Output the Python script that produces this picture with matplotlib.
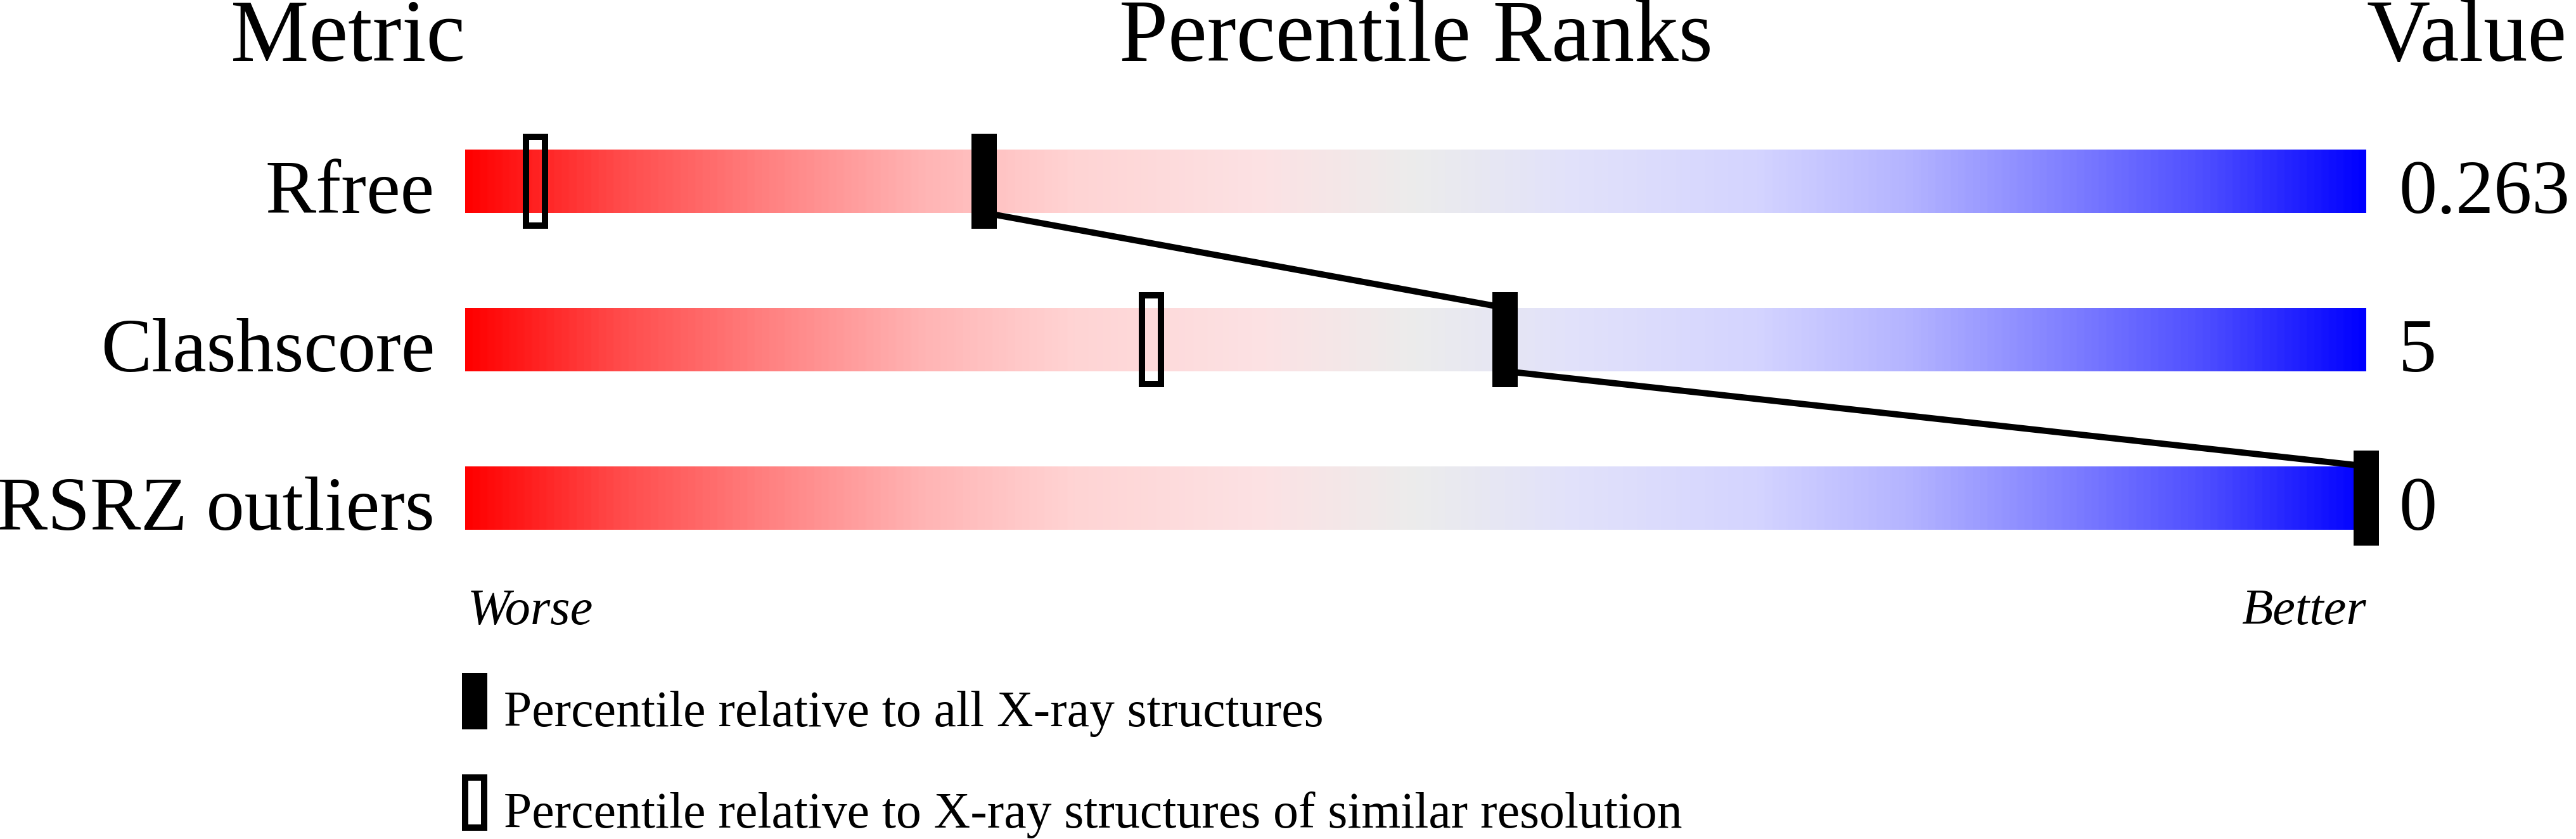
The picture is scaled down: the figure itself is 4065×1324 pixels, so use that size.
import numpy as np
import matplotlib
matplotlib.use("Agg")
import matplotlib.pyplot as plt
from matplotlib.colors import LinearSegmentedColormap
from matplotlib.patches import Rectangle

# ---- data ----
metrics = ["Rfree", "Clashscore", "RSRZ outliers"]
values = ["0.263", "5", "0"]
pct_all = [27.3, 54.7, 100.0]        # percentile relative to all X-ray structures
pct_similar = [3.7, 36.1, None]      # percentile relative to similar resolution
headers = ["Metric", "Percentile Ranks", "Value"]
legend_labels = ["Percentile relative to all X-ray structures",
                 "Percentile relative to X-ray structures of similar resolution"]

# ---- style ----
W, H, DPI = 4066, 1324, 100
FONT = "Liberation Serif"
anchors = [(0.00, (255, 0, 0)), (0.08, (255, 75, 75)), (0.16, (255, 130, 130)),
           (0.24, (255, 180, 180)), (0.32, (255, 212, 212)), (0.42, (252, 226, 228)),
           (0.50, (236, 236, 236)), (0.58, (226, 226, 250)), (0.68, (212, 212, 255)),
           (0.76, (180, 180, 255)), (0.84, (130, 130, 255)), (0.92, (75, 75, 255)),
           (1.00, (0, 0, 255))]
cmap = LinearSegmentedColormap.from_list(
    "slider", [(p, tuple(c / 255 for c in rgb)) for p, rgb in anchors])

fig = plt.figure(figsize=(W / DPI, H / DPI), dpi=DPI)
bar_left_px, bar_w_px = 734, 3000
ax = fig.add_axes([bar_left_px / W, 0, bar_w_px / W, 1])
row0_px, row_step_px = 285.7, 250.0
ax.set_xlim(0, 100)
ax.set_ylim((H - row0_px) / row_step_px, -row0_px / row_step_px)
ax.axis("off")

px_x = 100 / bar_w_px          # data units per pixel in x
px_y = 1 / row_step_px         # data units per pixel in y
bar_h = 100 * px_y
mk_w, mk_h = 40 * px_x, 150 * px_y
border = 10

grad = np.linspace(0, 1, 1024).reshape(1, -1)
for i, (name, val) in enumerate(zip(metrics, values)):
    ax.imshow(grad, cmap=cmap, aspect="auto",
              extent=(0, 100, i + bar_h / 2, i - bar_h / 2), interpolation="bilinear",
              zorder=1)
    ax.text(-48 * px_x, i + bar_h / 2, name, ha="right", va="baseline",
            fontsize=86.5, family=FONT, clip_on=False)
    ax.text(100 + 51 * px_x, i + bar_h / 2, val, ha="left", va="baseline",
            fontsize=86.5, family=FONT, clip_on=False)

# connecting line
xs, ys = [], []
for i, p in enumerate(pct_all):
    if i > 0:
        xs.append(p); ys.append(i - bar_h / 2)
    if i < len(pct_all) - 1:
        xs.append(p); ys.append(i + bar_h / 2)
ax.plot(xs, ys, color="black", lw=7.1, solid_capstyle="butt", zorder=2, clip_on=False)

# markers
for i, (pa, ps) in enumerate(zip(pct_all, pct_similar)):
    if ps is not None:
        ax.add_patch(Rectangle((ps - mk_w / 2 + border / 2 * px_x, i - mk_h / 2 + border / 2 * px_y),
                               mk_w - border * px_x, mk_h - border * px_y,
                               facecolor="none", edgecolor="black",
                               lw=border * 72 / DPI, zorder=3, clip_on=False))
    ax.add_patch(Rectangle((pa - mk_w / 2, i - mk_h / 2), mk_w, mk_h,
                           facecolor="black", edgecolor="none", zorder=4, clip_on=False))

# headers
hy = (96 - row0_px) / row_step_px
ax.text(0, hy, headers[0], ha="right", va="baseline", fontsize=100, family=FONT, clip_on=False)
ax.text(50, hy, headers[1], ha="center", va="baseline", fontsize=100, family=FONT, clip_on=False)
ax.text(100, hy, headers[2], ha="left", va="baseline", fontsize=100, family=FONT, clip_on=False)

# worse / better
wy = (985 - row0_px) / row_step_px
ax.text(4 * px_x, wy, "Worse", ha="left", va="baseline", fontsize=58, family=FONT,
        style="italic", clip_on=False)
ax.text(100, wy, "Better", ha="right", va="baseline", fontsize=58, family=FONT,
        style="italic", clip_on=False)

# legend
lg_x = (749.5 - bar_left_px) * px_x
lg_h = 89 * px_y
for k, (cy_px, base_px) in enumerate([(1106, 1146), (1266, 1306)]):
    cy = (cy_px - row0_px) / row_step_px
    if k == 0:
        ax.add_patch(Rectangle((lg_x - mk_w / 2, cy - lg_h / 2), mk_w, lg_h,
                               facecolor="black", edgecolor="none", clip_on=False))
    else:
        ax.add_patch(Rectangle((lg_x - mk_w / 2 + border / 2 * px_x, cy - lg_h / 2 + border / 2 * px_y),
                               mk_w - border * px_x, lg_h - border * px_y,
                               facecolor="none", edgecolor="black",
                               lw=border * 72 / DPI, clip_on=False))
    ax.text((795 - bar_left_px) * px_x, (base_px - row0_px) / row_step_px, legend_labels[k],
            ha="left", va="baseline", fontsize=57.3, family=FONT, clip_on=False)

fig.savefig("out.png", dpi=DPI, facecolor="white")
